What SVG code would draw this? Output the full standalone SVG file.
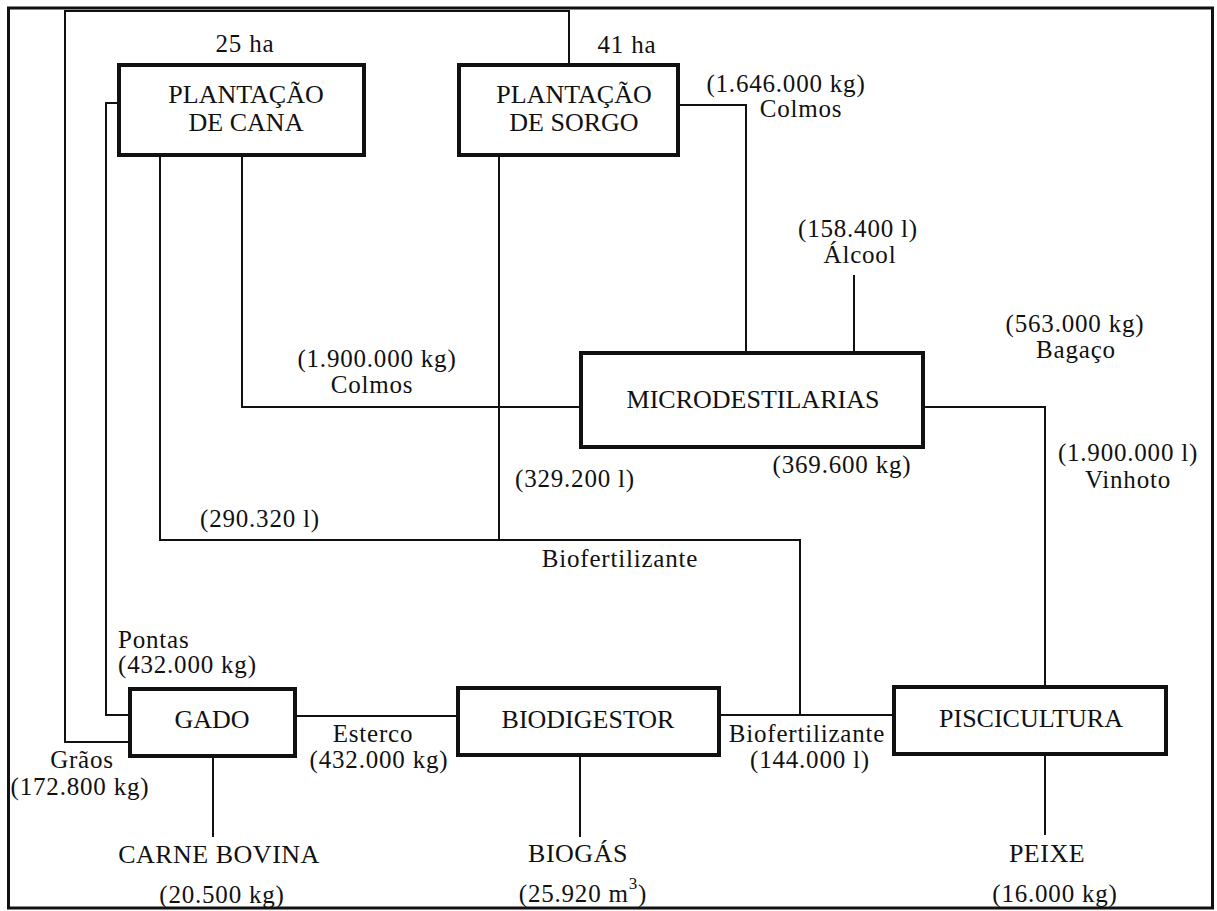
<svg xmlns="http://www.w3.org/2000/svg" width="1217" height="911" viewBox="0 0 1217 911">
  <style>
    .frame { fill: none; stroke: #111; stroke-width: 3; }
    .box { fill: #fff; stroke: #111; stroke-width: 4; }
    .wire { fill: none; stroke: #111; stroke-width: 2; }
    text { font-family: "Liberation Serif", "Times New Roman", serif; fill: #111; }
    .node { font-size: 26px; text-anchor: middle; }
    .out { font-size: 26px; text-anchor: middle; letter-spacing: 0.5px; }
    .lbl { font-size: 25px; text-anchor: middle; letter-spacing: 0.8px; }
    .lbl-l { font-size: 25px; text-anchor: start; letter-spacing: 0.8px; }
  </style>

  <rect x="0" y="0" width="1217" height="911" fill="#fff"/>
  <rect class="frame" x="8.5" y="8" width="1204" height="900"/>

  <!-- flows between units -->
  <g id="connectors">
    <!-- sorghum grains to cattle -->
    <path class="wire" d="M569,65 V11 H65 V742 H130"/>
    <!-- cane tops to cattle -->
    <path class="wire" d="M119,103 H106 V715 H130"/>
    <!-- cane stalks to distillery -->
    <path class="wire" d="M242,155 V407 H581"/>
    <!-- biofertilizer back to both plantations -->
    <path class="wire" d="M800,715 V540 H160 V155"/>
    <path class="wire" d="M499,155 V540"/>
    <!-- sorghum stalks to distillery -->
    <path class="wire" d="M678,105 H746 V353"/>
    <!-- alcohol output -->
    <path class="wire" d="M854,275 V353"/>
    <!-- bagasse / vinasse to fish farming -->
    <path class="wire" d="M923,407 H1045 V687"/>
    <!-- manure to digester, biofertilizer to fish farming -->
    <path class="wire" d="M295,716 H458"/>
    <path class="wire" d="M719,715 H894"/>
    <!-- final products -->
    <path class="wire" d="M213,756 V837"/>
    <path class="wire" d="M580,755 V837"/>
    <path class="wire" d="M1045,754 V835"/>
  </g>

  <g id="cana">
    <rect class="box" x="119" y="65" width="245" height="90"/>
    <text class="node" x="246" y="103">PLANTAÇÃO</text>
    <text class="node" x="246" y="131">DE CANA</text>
  </g>

  <g id="sorgo">
    <rect class="box" x="459" y="65" width="219" height="90"/>
    <text class="node" x="574" y="103">PLANTAÇÃO</text>
    <text class="node" x="574" y="131">DE SORGO</text>
  </g>

  <g id="microdestilarias">
    <rect class="box" x="581" y="353" width="342" height="94"/>
    <text class="node" x="753" y="408">MICRODESTILARIAS</text>
  </g>

  <g id="gado">
    <rect class="box" x="130" y="689" width="165" height="67"/>
    <text class="node" x="212" y="728">GADO</text>
  </g>

  <g id="biodigestor">
    <rect class="box" x="458" y="688" width="261" height="67"/>
    <text class="node" x="588" y="728">BIODIGESTOR</text>
  </g>

  <g id="piscicultura">
    <rect class="box" x="894" y="687" width="272" height="67"/>
    <text class="node" x="1031" y="727">PISCICULTURA</text>
  </g>

  <g id="labels">
    <text class="lbl" x="245" y="52">25 ha</text>
    <text class="lbl" x="627" y="53">41 ha</text>

    <text class="lbl" x="786" y="92">(1.646.000 kg)</text>
    <text class="lbl" x="801" y="117">Colmos</text>

    <text class="lbl" x="858" y="237">(158.400 l)</text>
    <text class="lbl" x="860" y="263">Álcool</text>

    <text class="lbl" x="377" y="367">(1.900.000 kg)</text>
    <text class="lbl" x="372" y="393">Colmos</text>

    <text class="lbl" x="1075" y="332">(563.000 kg)</text>
    <text class="lbl" x="1076" y="358">Bagaço</text>

    <text class="lbl" x="842" y="473">(369.600 kg)</text>

    <text class="lbl" x="1128" y="461">(1.900.000 l)</text>
    <text class="lbl" x="1128" y="488">Vinhoto</text>

    <text class="lbl" x="575" y="487">(329.200 l)</text>
    <text class="lbl" x="260" y="527">(290.320 l)</text>
    <text class="lbl" x="620" y="567">Biofertilizante</text>

    <text class="lbl-l" x="118" y="648">Pontas</text>
    <text class="lbl-l" x="118" y="673">(432.000 kg)</text>

    <text class="lbl" x="373" y="742">Esterco</text>
    <text class="lbl" x="379" y="768">(432.000 kg)</text>

    <text class="lbl" x="807" y="742">Biofertilizante</text>
    <text class="lbl" x="810" y="768">(144.000 l)</text>

    <text class="lbl" x="82" y="768">Grãos</text>
    <text class="lbl" x="80" y="795">(172.800 kg)</text>
  </g>

  <g id="produtos">
    <text class="out" x="219" y="863">CARNE BOVINA</text>
    <text class="lbl" x="222" y="903">(20.500 kg)</text>

    <text class="out" x="578" y="862">BIOGÁS</text>
    <text class="lbl" x="583" y="902">(25.920 m<tspan font-size="17" dy="-13">3</tspan><tspan dy="13">)</tspan></text>

    <text class="out" x="1047" y="862">PEIXE</text>
    <text class="lbl" x="1055" y="902">(16.000 kg)</text>
  </g>
</svg>
